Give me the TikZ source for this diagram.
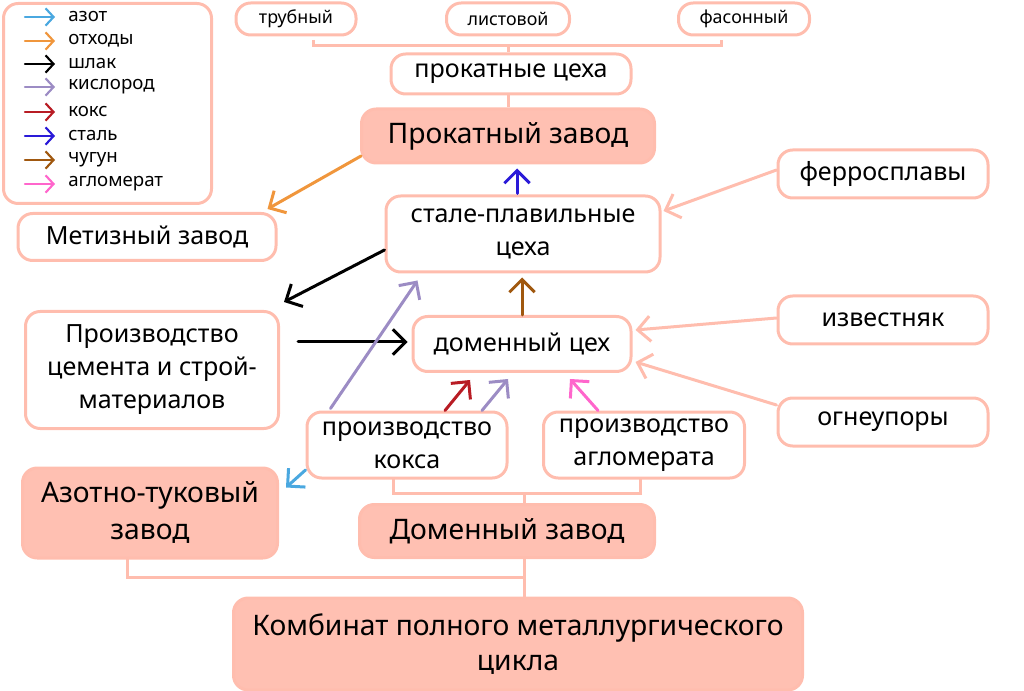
\documentclass[tikz,border=0pt]{standalone}
\usepackage{fontspec}
\setmainfont{Noto Sans}
\usetikzlibrary{arrows.meta,calc}
\definecolor{sal}{HTML}{FFBDAE}
\definecolor{salfill}{HTML}{FFC0B2}
\definecolor{cazot}{HTML}{4AA8E0}
\definecolor{cwaste}{HTML}{F0963C}
\definecolor{cslag}{HTML}{000000}
\definecolor{coxy}{HTML}{9C8CC4}
\definecolor{ccoke}{HTML}{B81C24}
\definecolor{csteel}{HTML}{2A1AD8}
\definecolor{ciron}{HTML}{A0580F}
\definecolor{cagl}{HTML}{FF66CC}
\tikzset{
  sz/.style 2 args={minimum width=#1*0.75pt, minimum height=#2*0.75pt},
  box/.style={draw=sal, line width=2.25pt, rounded corners=11pt, fill=white, align=center, inner sep=0pt},
  fbox/.style={box, fill=salfill},
  conn/.style={draw=sal, line width=2.25pt},
  arr/.style={-{Straight Barb[length=9.5pt,width=19pt]}, line width=2.25pt, line cap=round},
  larr/.style={-{Straight Barb[length=6pt,width=13pt]}, line width=1.6pt, line cap=round},
  ltext/.style={anchor=west, inner sep=0pt, font=\fontsize{14}{16}\selectfont},
  fs/.style={font=\fontsize{13.4}{16}\selectfont},
  fm/.style={font=\fontsize{18.8}{24.75}\selectfont},
  fl/.style={font=\fontsize{21.2}{27.75}\selectfont},
}
\begin{document}
\begin{tikzpicture}[x=0.75pt,y=-0.75pt]
\useasboundingbox (0,0) rectangle (1024,691);
% legend
\node[box, sz={208}{200}, anchor=north west] (leg) at (2,2) {};
\node[ltext] (l1) at (68,17) {азот};
\node[ltext] (l2) at (68,41) {отходы};
\node[ltext] (l3) at (68,64) {шлак};
\node[ltext] (l4) at (68,87) {кислород};
\node[ltext] (l5) at (68,112) {кокс};
\node[ltext] (l6) at (68,136) {сталь};
\node[ltext] (l7) at (68,160) {чугун};
\node[ltext] (l8) at (68,184) {агломерат};
\foreach \n/\c in {l1/cazot,l2/cwaste,l3/cslag,l4/coxy,l5/ccoke,l6/csteel,l7/ciron,l8/cagl}
  \draw[larr, \c] ($(\n.west)+(-43,0)$) -- ($(\n.west)+(-13,0)$);
% top
\node[box, sz={120}{32}, fs] (tr) at (296,19) {трубный};
\node[box, sz={123}{32}, fs] (li) at (508,19) {листовой};
\node[box, sz={131}{32}, fs] (fa) at (744,19) {фасонный};
\node[box, sz={240}{40}, fm] (pc) at (511,74) {прокатные цеха};
\node[fbox, sz={293}{54}, fl] (PZ) at (508,136) {Прокатный завод};
\coordinate (tbl) at (313,40);
\coordinate (tbr) at (721,40);
\coordinate (tbc) at (508,46);
\draw[conn] (tbl) |- (tbr |- tbc) -- (tbr);
\draw[conn] (tbc) -- (pc.north -| tbc);
\draw[conn] (pc.south -| tbc) -- (PZ.north -| tbc);
% middle
\node[box, sz={258}{47}, fm] (MZ) at (147,237) {Метизный завод};
\node[box, sz={274}{76}, fm] (ST) at (523,234) {стале-плавильные\\цеха};
\node[box, sz={210}{48}, fm] (FE) at (883,174) {ферросплавы};
\node[box, sz={253}{117}, fm] (CEM) at (152,370) {Производство\\цемента и строй-\\материалов};
\node[box, sz={218}{55}, fm] (DC) at (522,344) {доменный цех};
\node[box, sz={210}{48}, fm] (IZ) at (883,320) {известняк};
\node[box, sz={210}{48}, fm] (OG) at (883,422) {огнеупоры};
\node[box, sz={200}{66}, fm] (KK) at (407,445) {производство\\кокса};
\node[box, sz={201}{66}, fm] (AG) at (644,445) {производство\\агломерата};
\node[fbox, sz={255}{90}, fl] (AZ) at (150,513) {Азотно-туковый\\завод};
\node[fbox, sz={295}{53}, fl] (DZ) at (507,531) {Доменный завод};
\node[fbox, sz={569}{92}, font=\fontsize{21.2}{26.25}\selectfont] (KO) at (518,644) {Комбинат полного металлургического\\цикла};
% arrows
\draw[arr, csteel] ($(ST.north)+(-6,-1)$) -- ($(PZ.south)+(9,4)$);
\draw[arr, cwaste] ($(PZ.west)+(1,20)$) -- ($(MZ.north east)+(-10,-3)$);
\draw[arr, cslag] ($(ST.west)+(0,16)$) -- ($(CEM.north east)+(4,-8)$);
\draw[arr, ciron] (DC.north -| 522,0) -- ($(ST.south)+(-1,4)$);
\draw[arr, cslag] ($(CEM.east)+(18,-28)$) -- ($(DC.west)+(-4,-2)$);
\draw[arr, coxy] ($(KK.north west)+(25,-2)$) -- ($(ST.south west)+(33,7)$);
\draw[arr, ccoke] ($(KK.north)+(38,0)$) -- ($(DC.south)+(-52,7)$);
\draw[arr, coxy] ($(KK.north)+(75,0)$) -- ($(DC.south)+(-14,6)$);
\draw[arr, cagl] ($(AG.north)+(-46,0)$) -- ($(DC.south)+(48,6)$);
\draw[arr, sal] ($(FE.west)+(0,-4)$) -- ($(ST.east)+(2,-23)$);
\draw[arr, sal] ($(IZ.west)+(0,-2)$) -- ($(DC.east)+(3,-14)$);
\draw[arr, sal] ($(OG.west)+(0,-17)$) -- ($(DC.east)+(3,18)$);
\draw[arr, cazot] ($(KK.west)+(0,25)$) -- ($(AZ.north east)+(7,21)$);
% bottom brackets
\coordinate (bkl) at (393,478);
\coordinate (bkr) at (640,478);
\coordinate (bkc) at (524,493);
\draw[conn] (bkl) |- (bkr |- bkc) -- (bkr);
\draw[conn] (bkc) -- (DZ.north -| bkc);
\coordinate (azl) at (127,558);
\coordinate (azc) at (524,577);
\draw[conn] (azl) |- (azc);
\draw[conn] (DZ.south -| azc) -- (KO.north -| azc);
\end{tikzpicture}
\end{document}
